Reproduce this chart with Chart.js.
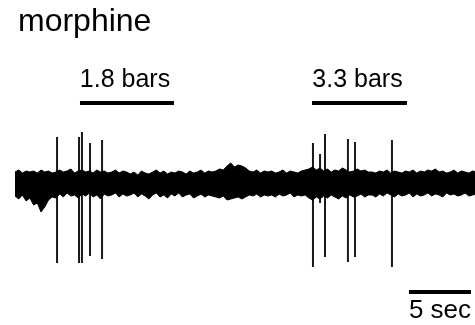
<!DOCTYPE html>
<html>
<head>
<meta charset="utf-8">
<script src="https://cdn.jsdelivr.net/npm/chart.js@4"></script>
<style>
  html, body { margin: 0; padding: 0; background: #fff; }
  #wrap { width: 475px; height: 325px; }
</style>
</head>
<body>
<div id="wrap"><canvas id="trace" width="475" height="325"></canvas></div>
<script>
// recording: one sample of the noise envelope every 0.3 s (values relative to baseline)
const sampleStep = 0.3;
const upperEnv = [
  11, 13, 10, 12, 11,
  12, 10, 13, 11, 12, 10, 11,
  13, 11, 12, 14, 10, 12, 13, 11, 12, 10, 13, 11, 12, 10, 11, 13, 10, 12, 11,
  9, 11, 8, 12, 10, 9, 11, 13, 10, 12, 9, 11, 10, 12, 11, 9, 12, 10, 11, 13, 10, 12, 11,
  12, 14, 13, 17, 20, 16, 18,
  17, 15, 12, 11, 13, 10, 12, 11,
  12, 10, 11, 13, 10, 12, 11, 10, 12, 13,
  14, 16, 13, 15, 12, 14, 11, 13, 12, 15, 13, 11, 12, 14, 12, 13, 11,
  11, 10, 12, 11, 13, 10, 12, 11, 10, 12, 11, 13, 10, 12, 11, 13, 12, 14, 11, 12, 10, 11, 13, 10, 12, 11, 10, 12, 11
];
const lowerEnv = [
  -13, -16, -12, -18, -15,
  -22, -20, -29, -24, -17, -14, -15,
  -11, -14, -10, -13, -12, -15, -11, -13, -10, -14, -12, -16, -11, -13, -12, -10, -14, -11, -13,
  -12, -10, -14, -11, -13, -16, -12, -10, -14, -12, -15, -11, -13, -10, -14, -12, -11, -15, -13, -11, -14, -12, -13,
  -14, -15, -13, -17, -16, -15, -14,
  -16, -14, -12, -13, -11, -14, -12, -13,
  -12, -14, -11, -13, -12, -10, -14, -12, -13, -12,
  -15, -17, -14, -16, -13, -15, -12, -14, -16, -13, -15, -12, -14, -13, -11, -14, -12,
  -12, -14, -11, -13, -10, -12, -14, -11, -13, -12, -10, -14, -11, -13, -12, -10, -13, -11, -12, -14, -10, -12, -11, -13, -12, -10, -13, -12, -11
];

// spikes (s, peak up, peak down)
const spikeTimes   = [3.39, 5.16, 5.40, 6.05, 7.02, 24.03, 24.60, 25.00, 26.85, 27.42, 30.40];
const spikeTops    = [46, 46, 51, 40, 43, 40, 29, 49, 44, 41, 43];
const spikeBottoms = [-80, -80, -80, -73, -76, -84, -20, -74, -79, -74, -84];

// pressure steps
const stimLabels = ['1.8 bars', '3.3 bars'];
const stimStarts = [5.24, 23.95];
const stimEnds   = [12.82, 31.61];
const stimLevel  = 80;

// time scale bar
const scaleLabel = '5 sec';
const scaleStart = 31.77;
const scaleLen   = 5;
const scaleLevel = -109;

const drugLabel = 'morphine';

const times = upperEnv.map((v, i) => +(i * sampleStep).toFixed(2));
const upperPts = times.map((t, i) => ({ x: t, y: upperEnv[i] }));
const lowerPts = times.map((t, i) => ({ x: t, y: lowerEnv[i] }));

const spikePts = [];
spikeTimes.forEach((t, i) => {
  spikePts.push({ x: t, y: spikeTops[i] }, { x: t, y: spikeBottoms[i] }, { x: t, y: null });
});

const stimPts = [];
stimStarts.forEach((s, i) => {
  stimPts.push({ x: s, y: stimLevel }, { x: stimEnds[i], y: stimLevel }, { x: stimEnds[i], y: null });
});

const scalePts = [{ x: scaleStart, y: scaleLevel }, { x: scaleStart + scaleLen, y: scaleLevel }];

const textPlugin = {
  id: 'labels',
  afterDraw(chart) {
    const { ctx, scales: { x, y } } = chart;
    ctx.save();
    ctx.fillStyle = '#000';
    ctx.textBaseline = 'alphabetic';

    ctx.font = '32px "Liberation Sans", Arial, sans-serif';
    ctx.textAlign = 'left';
    ctx.fillText(drugLabel, x.getPixelForValue(0.24), y.getPixelForValue(152));

    ctx.font = '25px "Liberation Sans", Arial, sans-serif';
    ctx.textAlign = 'center';
    stimLabels.forEach((lab, i) => {
      const cx = x.getPixelForValue((stimStarts[i] + stimEnds[i]) / 2) - 2;
      ctx.fillText(lab, cx, y.getPixelForValue(96));
    });

    ctx.font = '26px "Liberation Sans", Arial, sans-serif';
    ctx.fillText(scaleLabel, x.getPixelForValue(scaleStart + scaleLen / 2), y.getPixelForValue(-135));
    ctx.restore();
  }
};

new Chart(document.getElementById('trace'), {
  type: 'line',
  data: {
    datasets: [
      {
        data: upperPts,
        borderColor: '#000',
        borderWidth: 1,
        backgroundColor: '#000',
        fill: '+1',
        pointRadius: 0,
        tension: 0
      },
      {
        data: lowerPts,
        borderColor: '#000',
        borderWidth: 1,
        fill: false,
        pointRadius: 0,
        tension: 0
      },
      {
        data: spikePts,
        borderColor: '#1a1a1a',
        borderWidth: 2,
        fill: false,
        pointRadius: 0,
        spanGaps: false
      },
      {
        data: stimPts,
        borderColor: '#000',
        borderWidth: 4,
        borderCapStyle: 'butt',
        fill: false,
        pointRadius: 0,
        spanGaps: false
      },
      {
        data: scalePts,
        borderColor: '#000',
        borderWidth: 4,
        borderCapStyle: 'butt',
        fill: false,
        pointRadius: 0
      }
    ]
  },
  options: {
    responsive: false,
    animation: false,
    layout: { padding: 0 },
    plugins: {
      legend: { display: false },
      tooltip: { enabled: false }
    },
    scales: {
      x: { type: 'linear', display: false, min: -15 / 12.4, max: 460 / 12.4 },
      y: { type: 'linear', display: false, min: -142, max: 183 }
    }
  },
  plugins: [textPlugin]
});
</script>
</body>
</html>
